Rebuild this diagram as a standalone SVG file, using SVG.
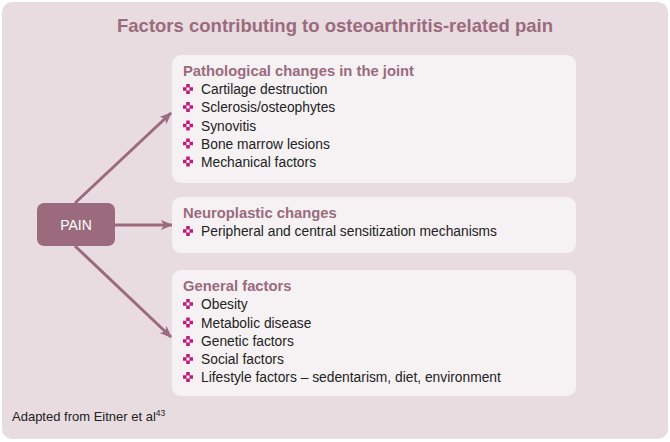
<svg xmlns="http://www.w3.org/2000/svg" width="670" height="442" viewBox="0 0 670 442">
<style>
.title{font-family:"Liberation Sans",Arial,sans-serif;font-size:19px;font-weight:bold;fill:#9b6a7d}
.head{font-family:"Liberation Sans",Arial,sans-serif;font-size:14.8px;font-weight:bold;fill:#9b6a7d}
.item{font-family:"Liberation Sans",Arial,sans-serif;font-size:13.8px;fill:#222}
.foot{font-family:"Liberation Sans",Arial,sans-serif;font-size:13px;fill:#222}
.box{fill:#f6f2f4}
.conn{stroke:#9b6a7d;stroke-width:3;fill:none}
</style>
<defs>
<marker id="ah" viewBox="0 0 12 10" refX="11" refY="5" markerWidth="12" markerHeight="10" markerUnits="userSpaceOnUse" orient="auto">
<path d="M0,0 L12,5 L0,10 L3,5 Z" fill="#9b6a7d"/>
</marker>
<g id="bul">
<path d="M-1.8,-5 H1.8 V-1.8 H5 V1.8 H1.8 V5 H-1.8 V1.8 H-5 V-1.8 H-1.8 Z" fill="#c2187a"/>
<rect x="-1.5" y="-1.5" width="3" height="3" fill="#f6f2f4"/>
</g>
</defs>
<rect x="2" y="2" width="666" height="437" rx="10" fill="#e8dce1"/>
<text class="title" x="335" y="32" text-anchor="middle" textLength="436" lengthAdjust="spacingAndGlyphs">Factors contributing to osteoarthritis-related pain</text>

<g id="connectors">
<line class="conn" x1="75" y1="203" x2="171" y2="113" marker-end="url(#ah)"/>
<line class="conn" x1="115" y1="225" x2="172" y2="225" marker-end="url(#ah)"/>
<line class="conn" x1="75" y1="246" x2="171" y2="337" marker-end="url(#ah)"/>
</g>

<g id="pain">
<rect x="37" y="203" width="78" height="43" rx="7" fill="#9b6a7d"/>
<text x="76" y="229.5" text-anchor="middle" font-family="Liberation Sans, Arial, sans-serif" font-size="14" fill="#fff">PAIN</text>
</g>

<g id="pathological">
<rect class="box" x="172" y="55" width="404" height="128" rx="9"/>
<text class="head" x="183" y="76">Pathological changes in the joint</text>
<use href="#bul" x="188" y="89"/><text class="item" x="201" y="94">Cartilage destruction</text>
<use href="#bul" x="188" y="107"/><text class="item" x="201" y="112">Sclerosis/osteophytes</text>
<use href="#bul" x="188" y="125.5"/><text class="item" x="201" y="130.5">Synovitis</text>
<use href="#bul" x="188" y="143.5"/><text class="item" x="201" y="148.5">Bone marrow lesions</text>
<use href="#bul" x="188" y="161.5"/><text class="item" x="201" y="166.5">Mechanical factors</text>
</g>

<g id="neuroplastic">
<rect class="box" x="172" y="197" width="404" height="56" rx="9"/>
<text class="head" x="183" y="218">Neuroplastic changes</text>
<use href="#bul" x="188" y="231"/><text class="item" x="201" y="236">Peripheral and central sensitization mechanisms</text>
</g>

<g id="general">
<rect class="box" x="172" y="270" width="404" height="126" rx="9"/>
<text class="head" x="183" y="291">General factors</text>
<use href="#bul" x="188" y="304"/><text class="item" x="201" y="309">Obesity</text>
<use href="#bul" x="188" y="322.5"/><text class="item" x="201" y="327.5">Metabolic disease</text>
<use href="#bul" x="188" y="341"/><text class="item" x="201" y="346">Genetic factors</text>
<use href="#bul" x="188" y="359"/><text class="item" x="201" y="364">Social factors</text>
<use href="#bul" x="188" y="377"/><text class="item" x="201" y="382">Lifestyle factors – sedentarism, diet, environment</text>
</g>

<text class="foot" x="12" y="421">Adapted from Eitner et al<tspan font-size="8.5" dy="-5">43</tspan></text>
</svg>
